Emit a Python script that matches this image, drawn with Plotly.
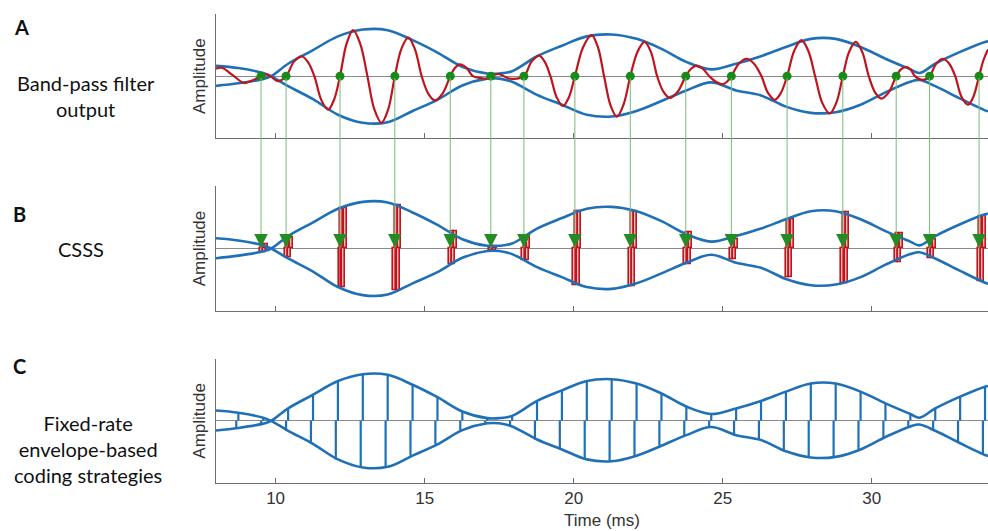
import plotly.graph_objects as go
from plotly.subplots import make_subplots

# ---------------- data ----------------
# envelope knots (time in ms) and the two envelope curves (they cross near 9.85 ms)
env_t = [8.0, 8.75, 9.585, 9.85, 10.42, 11.255, 12.09, 12.925, 13.76, 14.595, 15.43, 16.265,
         17.1, 17.5, 17.935, 18.77, 19.605, 20.44, 21.275, 22.11, 22.945, 23.78, 24.615, 25.45,
         26.285, 27.12, 27.955, 28.79, 29.625, 30.46, 31.295, 31.6, 32.13, 32.965, 33.8, 33.9]
env_a = [0.166, 0.13, 0.05, 0.0, -0.16, -0.37, -0.62, -0.75, -0.74, -0.56, -0.38, -0.15,
         -0.04, -0.04, -0.09, -0.30, -0.46, -0.62, -0.65, -0.56, -0.40, -0.23, -0.10, -0.23,
         -0.31, -0.49, -0.59, -0.58, -0.46, -0.26, -0.09, -0.06, -0.16, -0.36, -0.55, -0.565]
env_b = [-0.156, -0.115, -0.045, 0.0, 0.20, 0.42, 0.64, 0.75, 0.74, 0.58, 0.38, 0.15,
         0.043, 0.043, 0.08, 0.32, 0.49, 0.64, 0.67, 0.60, 0.44, 0.23, 0.11, 0.20,
         0.32, 0.47, 0.60, 0.60, 0.47, 0.28, 0.11, 0.05, 0.20, 0.39, 0.55, 0.56]

bpf_t = [8.0, 8.2, 8.55, 8.95, 9.25, 9.51, 9.7, 9.88, 10.07, 10.35,
         10.61, 10.87, 11.08, 11.3, 11.53, 11.76, 11.96, 12.16,
         12.38, 12.6, 12.84, 13.08, 13.31, 13.55, 13.78, 14.0,
         14.22, 14.45, 14.67, 14.9, 15.12, 15.34, 15.6, 15.86,
         16.02, 16.18, 16.4, 16.62, 16.85, 17.07, 17.22, 17.47, 17.66, 17.86, 18.33,
         18.58, 18.84, 19.03, 19.22, 19.43, 19.64, 19.84, 20.04,
         20.32, 20.6, 20.81, 21.02, 21.23, 21.45, 21.67, 21.9,
         22.14, 22.38, 22.59, 22.8, 23.01, 23.22, 23.49, 23.76,
         23.94, 24.12, 24.33, 24.55, 24.77, 25.0, 25.14, 25.29,
         25.54, 25.8, 26.05, 26.3, 26.52, 26.75, 26.95, 27.16,
         27.4, 27.64, 27.87, 28.1, 28.34, 28.59, 28.81, 29.03,
         29.24, 29.46, 29.68, 29.9, 30.11, 30.32, 30.57, 30.82,
         30.98, 31.14, 31.3, 31.45, 31.72, 31.94,
         32.16, 32.39, 32.6, 32.8, 33.01, 33.23, 33.41, 33.6, 33.75, 33.9]
bpf_v = [0.12, 0.135, 0.02, -0.11, -0.06, 0.0, 0.03, -0.02, -0.08, 0.0,
         0.23, 0.32, 0.23, 0.0, -0.38, -0.54, -0.38, 0.0,
         0.52, 0.74, 0.52, 0.0, -0.53, -0.75, -0.53, 0.0,
         0.44, 0.62, 0.44, 0.0, -0.28, -0.39, -0.28, 0.0,
         0.135, 0.19, 0.135, 0.0, -0.028, -0.04, 0.0, 0.035, 0.0, -0.04, 0.0,
         0.23, 0.33, 0.23, 0.0, -0.34, -0.48, -0.34, 0.0,
         0.47, 0.66, 0.47, 0.0, -0.46, -0.65, -0.46, 0.0,
         0.39, 0.55, 0.39, 0.0, -0.25, -0.35, -0.25, 0.0,
         0.12, 0.17, 0.12, 0.0, -0.09, -0.13, -0.09, 0.0,
         0.20, 0.28, 0.20, 0.0, -0.27, -0.38, -0.27, 0.0,
         0.41, 0.58, 0.41, 0.0, -0.43, -0.60, -0.43, 0.0,
         0.39, 0.55, 0.39, 0.0, -0.26, -0.36, -0.26, 0.0,
         0.11, 0.15, 0.11, 0.0, -0.06, 0.0,
         0.20, 0.28, 0.20, 0.0, -0.33, -0.46, -0.33, 0.0, 0.26, 0.43]

# positive-going zero crossings (green dots) and CSSS pulse amplitudes
zc_t = [9.51, 10.35, 12.16, 14.0, 15.86, 17.22, 18.33, 20.04, 21.9, 23.76, 25.29, 27.16,
        29.03, 30.82, 31.94, 33.6]
zc_v = [0.0] * len(zc_t)
csss_up = [0.06, 0.18, 0.65, 0.70, 0.27, 0.04, 0.19, 0.60, 0.59, 0.26, 0.15, 0.47, 0.58,
           0.24, 0.14, 0.52]
csss_lo = [-0.06, -0.15, -0.63, -0.68, -0.25, -0.035, -0.19, -0.60, -0.61, -0.26, -0.18,
           -0.47, -0.56, -0.23, -0.16, -0.53]

# fixed-rate pulses
fr_t = [8.75, 9.585, 10.42, 11.255, 12.09, 12.925, 13.76, 14.595, 15.43, 16.265, 17.1, 17.935,
        18.77, 19.605, 20.44, 21.275, 22.11, 22.945, 23.78, 24.615, 25.45, 26.285, 27.12,
        27.955, 28.79, 29.625, 30.46, 31.295, 32.13, 32.965, 33.8]
fr_up = [0.13, 0.05, 0.20, 0.42, 0.64, 0.75, 0.74, 0.58, 0.38, 0.15, 0.043, 0.08,
         0.32, 0.49, 0.64, 0.67, 0.60, 0.44, 0.23, 0.11, 0.20, 0.32, 0.47,
         0.60, 0.60, 0.47, 0.28, 0.11, 0.20, 0.39, 0.55]
fr_lo = [-0.115, -0.045, -0.16, -0.37, -0.62, -0.75, -0.74, -0.56, -0.38, -0.15, -0.04, -0.09,
         -0.30, -0.46, -0.62, -0.65, -0.56, -0.40, -0.23, -0.10, -0.23, -0.31, -0.49,
         -0.59, -0.58, -0.46, -0.26, -0.09, -0.16, -0.36, -0.55]

xticks = [10, 15, 20, 25, 30]
x_range = [8.0, 33.9]

# ---------------- styling ----------------
BLUE = "#1f70b6"
RED = "#c0141c"
GREEN_DOT = "#178a17"
GREEN_LINE = "#78bb78"
GREEN_HEAD = "#248c24"
AXIS = "#6e6e6e"
ZERO = "#8a8a8a"
AXFONT = dict(family="Liberation Sans", size=17, color="#333")

fig = make_subplots(rows=3, cols=1, vertical_spacing=48 / 469)

def env_traces(row):
    for ys in (env_a, env_b):
        fig.add_trace(go.Scatter(x=env_t, y=ys, mode="lines",
                                 line=dict(color=BLUE, width=2.6, shape="spline", smoothing=1.0),
                                 hoverinfo="skip"), row=row, col=1)

# Panel A
env_traces(1)
fig.add_trace(go.Scatter(x=bpf_t, y=bpf_v, mode="lines",
                         line=dict(color=RED, width=2.2, shape="spline", smoothing=1.0)), row=1, col=1)
fig.add_trace(go.Scatter(x=zc_t, y=zc_v, mode="markers",
                         marker=dict(color=GREEN_DOT, size=9)), row=1, col=1)

# Panel B: biphasic pulses (two per crossing)
for off_up, off_lo in ((0.06, 0.0), (0.17, 0.11)):
    fig.add_trace(go.Bar(x=[t + off_up for t in zc_t], y=csss_up, base=0, width=0.1,
                         marker=dict(color="#f2b9b9", line=dict(color=RED, width=1.6))),
                  row=2, col=1)
    fig.add_trace(go.Bar(x=[t + off_lo for t in zc_t], y=csss_lo, base=0, width=0.1,
                         marker=dict(color="#f2b9b9", line=dict(color=RED, width=1.6))),
                  row=2, col=1)
env_traces(2)

# Panel C: fixed-rate pulses
px, py = [], []
for t, a in zip(fr_t, fr_up):
    px += [t, t, None]
    py += [0, a, None]
for t, a in zip(fr_t, fr_lo):
    px += [t - 0.07, t - 0.07, None]
    py += [0, a, None]
fig.add_trace(go.Scatter(x=px, y=py, mode="lines", line=dict(color=BLUE, width=2.2)), row=3, col=1)
env_traces(3)

# arrows from A to B
for t in zc_t:
    fig.add_annotation(x=t, y=0, xref="x2", yref="y2", ax=0, ay=-172, text="",
                       showarrow=True, arrowhead=0, arrowwidth=1, arrowcolor=GREEN_LINE)
    fig.add_annotation(x=t, y=0, xref="x2", yref="y2", ax=0, ay=-16, text="",
                       showarrow=True, arrowhead=2, arrowsize=1.5, arrowwidth=1.8,
                       arrowcolor=GREEN_HEAD, standoff=1)

for r in (1, 2, 3):
    fig.update_xaxes(range=x_range, showline=True, linecolor=AXIS, linewidth=1,
                     tickvals=xticks, ticks="inside", ticklen=5, tickcolor=AXIS,
                     showticklabels=(r == 3), showgrid=False, zeroline=False,
                     tickfont=AXFONT, row=r, col=1)
    fig.update_yaxes(range=[-1, 1], showline=True, linecolor=AXIS, linewidth=1,
                     tickvals=[1], ticks="inside", ticklen=5, tickcolor=AXIS,
                     showticklabels=False, showgrid=False,
                     zeroline=True, zerolinecolor=ZERO, zerolinewidth=1.2,
                     title=dict(text="Amplitude", standoff=5, font=AXFONT),
                     row=r, col=1)
fig.update_xaxes(title=dict(text="Time (ms)", standoff=6, font=AXFONT), row=3, col=1)

def side(text, yref, y, x=86, bold=False, size=20):
    fig.add_annotation(text=text, xref="paper", x=(x - 216) / 772, yref=yref, y=y,
                       xanchor="center", yanchor="middle", showarrow=False,
                       font=dict(family="Lato", size=size, color="#111",
                                 weight="bold" if bold else "normal"))

side("A", "y", 0.79, x=21, bold=True)
side("B", "y2", 0.56, x=19, bold=True)
side("C", "y3", 0.89, x=19, bold=True)
side("Band-pass filter<br>output", "y", -0.32, x=86)
side("CSSS", "y2", 0.0, x=81)
side("Fixed-rate<br>envelope-based<br>coding strategies", "y3", -0.45, x=88)

fig.update_layout(width=988, height=531, margin=dict(l=216, r=0, t=14, b=48),
                  paper_bgcolor="white", plot_bgcolor="white", showlegend=False,
                  barmode="overlay", bargap=0)

fig.write_html("out.html")
